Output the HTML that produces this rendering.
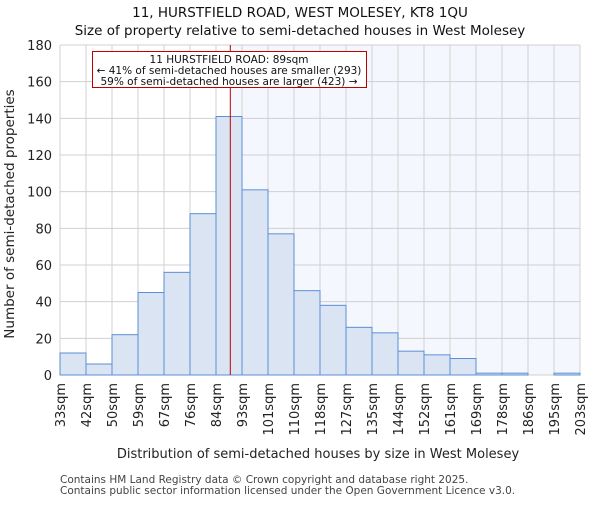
<!DOCTYPE html>
<html><head><meta charset="utf-8"><style>
body{margin:0;background:#fff;}
svg{font-family:"DejaVu Sans","Liberation Sans",sans-serif;}
</style></head><body>
<svg id="c" width="600" height="500" xmlns="http://www.w3.org/2000/svg"></svg>
<script>
const binLabels=["33sqm","42sqm","50sqm","59sqm","67sqm","76sqm","84sqm","93sqm","101sqm","110sqm","118sqm","127sqm","135sqm","144sqm","152sqm","161sqm","169sqm","178sqm","186sqm","195sqm","203sqm"];
const counts=[12,6,22,45,56,88,141,101,77,46,38,26,23,13,11,9,1,1,0,1];
const yTicks=[0,20,40,60,80,100,120,140,160,180];
const propertyBinPos=6.55; // marker position in bin units (89sqm)
const X0=60,X1=580,Y0=375,Y1=45,YMAX=180;
const svg=document.getElementById('c');
const NS='http://www.w3.org/2000/svg';
const bw=(X1-X0)/counts.length;
const xs=i=>X0+i*bw;
const ys=v=>Y0-(v/YMAX)*(Y0-Y1);
function mk(t,a,p){const e=document.createElementNS(NS,t);for(const k in a)e.setAttribute(k,a[k]);(p||svg).appendChild(e);return e;}
function txt(s,a){const e=mk('text',a);e.textContent=s;return e;}
const mx=xs(propertyBinPos);
let r=mk('rect',{x:mx,y:Y1,width:X1-mx,height:Y0-Y1,fill:'#f4f7fd'});


for(let i=0;i<binLabels.length;i++){const l=mk('line',{x1:xs(i),x2:xs(i),y1:Y1,y2:Y0,stroke:'#d0d0d0','stroke-width':1});

}
yTicks.forEach(v=>{const l=mk('line',{x1:X0,x2:X1,y1:ys(v),y2:ys(v),stroke:'#d0d0d0','stroke-width':1});


const t=txt(String(v),{x:X0-8,y:ys(v)+5,'text-anchor':'end','font-size':13,fill:'#222'});

});
counts.forEach((v,i)=>{const b=mk('rect',{x:xs(i),y:ys(v),width:bw,height:Y0-ys(v),fill:'#dae4f3',stroke:'#5b8fd6','stroke-width':1});

});
binLabels.forEach((s,i)=>{const x=xs(i)+5,y=383;const t=txt(s,{x:x,y:y,transform:`rotate(-90 ${x} ${y})`,'text-anchor':'end','font-size':13,fill:'#222'});

});
const ml=mk('line',{x1:mx,x2:mx,y1:Y1,y2:Y0,stroke:'#c00000','stroke-width':1});


const g=mk('g',{});


mk('rect',{x:92.5,y:51.5,width:274,height:36,fill:'#fff',stroke:'#c00000','stroke-width':1},g);
[["11 HURSTFIELD ROAD: 89sqm",63],["← 41% of semi-detached houses are smaller (293)",74],["59% of semi-detached houses are larger (423) →",85]].forEach(([s,y])=>{const e=mk('text',{x:229,y:y,'text-anchor':'middle','font-size':10.5,fill:'#111'},g);e.textContent=s;});
let t;
t=txt("11, HURSTFIELD ROAD, WEST MOLESEY, KT8 1QU",{x:300,y:17,'text-anchor':'middle','font-size':13.5,fill:'#111'});

t=txt("Size of property relative to semi-detached houses in West Molesey",{x:300,y:35,'text-anchor':'middle','font-size':13.5,fill:'#111'});

t=txt("Number of semi-detached properties",{x:14,y:214,transform:'rotate(-90 14 214)','text-anchor':'middle','font-size':13.5,fill:'#222'});

t=txt("Distribution of semi-detached houses by size in West Molesey",{x:318,y:458,'text-anchor':'middle','font-size':13,fill:'#222'});

t=txt("Contains HM Land Registry data © Crown copyright and database right 2025.",{x:60,y:483,'font-size':10.5,fill:'#444'});

t=txt("Contains public sector information licensed under the Open Government Licence v3.0.",{x:60,y:494,'font-size':10.5,fill:'#444'});

</script>
</body></html>
